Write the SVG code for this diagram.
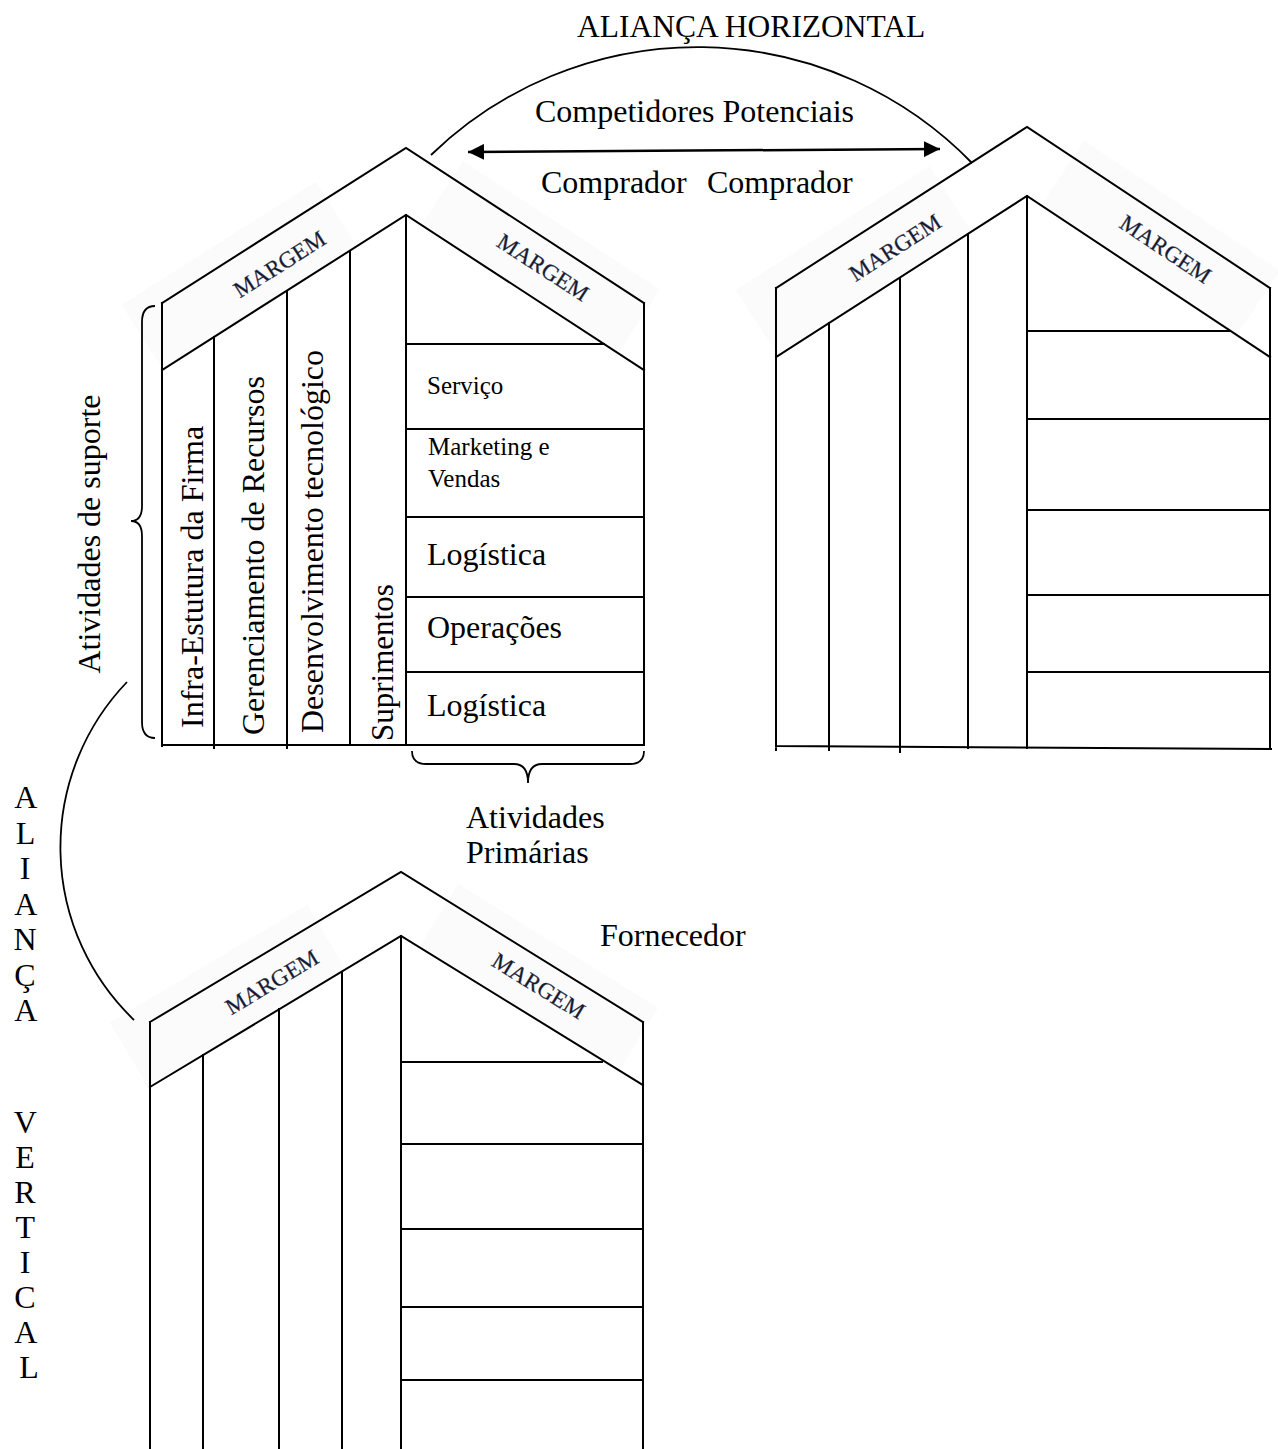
<svg xmlns="http://www.w3.org/2000/svg" width="1278" height="1449" viewBox="0 0 1278 1449">
  <style>
    .ln { stroke: #000; stroke-width: 2; fill: none; stroke-linecap: square; }
    .body { fill: #fff; stroke: none; }
    .shade { fill: #fbfbfb; stroke: none; }
    .t { font-family: "Liberation Serif", "Times New Roman", serif; font-size: 32px; fill: #000; }
    .ts { font-family: "Liberation Serif", "Times New Roman", serif; font-size: 25px; fill: #000; }
    .mg { font-family: "Liberation Serif", "Times New Roman", serif; font-size: 23px; fill: #15192e; text-anchor: middle; stroke: #3a3f5c; stroke-width: 0.3; }
    .arc { stroke: #000; stroke-width: 1.8; fill: none; }
  </style>
  <defs>
    <marker id="head" markerUnits="userSpaceOnUse" markerWidth="18" markerHeight="16" refX="16" refY="8" orient="auto-start-reverse">
      <path d="M0,0 L16,8 L0,16 Z" fill="#000"/>
    </marker>
  </defs>

  <rect width="1278" height="1449" fill="#fff"/>

  <!-- Value chain of the firm -->
  <g id="house-firma">
    <g transform="translate(162,303) rotate(-32.42)"><rect class="shade" x="-35" y="-20" width="230" height="95"/></g>
    <g transform="translate(406,148) rotate(33.07)"><rect class="shade" x="55" y="-20" width="235" height="95"/></g>
    <polygon class="body" points="162,370 406,215 644,370 644,745 162,745"/>
    <path class="ln" d="M162,303 L406,148 L644,303"/>
    <path class="ln" d="M162,370 L406,215 L644,370"/>
    <path class="ln" d="M162,303 V746 M644,303 V745 M162,745 H644"/>
    <path class="ln" d="M214,337 V748 M287,291 V748 M350,251 V745 M406,215 V745"/>
    <path class="ln" d="M406,344 H604 M406,429 H644 M406,517 H644 M406,597 H644 M406,672 H644"/>
    <g transform="translate(162,303) rotate(-32.42)"><text class="mg" x="120" y="38" textLength="104" lengthAdjust="spacing">MARGEM</text></g>
    <g transform="translate(406,148) rotate(33.07)"><text class="mg" x="180" y="33" textLength="104" lengthAdjust="spacing">MARGEM</text></g>
    <text class="t" transform="translate(203,728) rotate(-90)">Infra-Estutura da Firma</text>
    <text class="t" transform="translate(264,735) rotate(-90)">Gerenciamento de Recursos</text>
    <text class="t" transform="translate(323,733) rotate(-90)">Desenvolvimento tecnológico</text>
    <text class="t" transform="translate(393,741) rotate(-90)" style="font-size:31px">Suprimentos</text>
    <text class="ts" x="427" y="394">Serviço</text>
    <text class="ts" x="428" y="455">Marketing e</text>
    <text class="ts" x="428" y="487">Vendas</text>
    <text class="t" x="427" y="565">Logística</text>
    <text class="t" x="427" y="638">Operações</text>
    <text class="t" x="427" y="716">Logística</text>
  </g>

  <!-- Value chain of the buyer -->
  <g id="house-comprador">
    <g transform="translate(776,288) rotate(-32.68)"><rect class="shade" x="-35" y="-20" width="230" height="95"/></g>
    <g transform="translate(1027,127) rotate(33.53)"><rect class="shade" x="55" y="-20" width="235" height="95"/></g>
    <polygon class="body" points="776,357 1027,196 1270,357 1270,749 776,746"/>
    <path class="ln" d="M776,288 L1027,127 L1270,288"/>
    <path class="ln" d="M776,357 L1027,196 L1270,357"/>
    <path class="ln" d="M776,288 V750 M1270,288 V749 M776,746 L1271,749"/>
    <path class="ln" d="M829,323 V750 M900,278 V752 M968,234 V748 M1027,196 V748"/>
    <path class="ln" d="M1027,331 H1229 M1027,419 H1270 M1027,510 H1270 M1027,595 H1270 M1027,672 H1270"/>
    <g transform="translate(776,288) rotate(-32.68)"><text class="mg" x="122" y="38" textLength="104" lengthAdjust="spacing">MARGEM</text></g>
    <g transform="translate(1027,127) rotate(33.53)"><text class="mg" x="183" y="33" textLength="104" lengthAdjust="spacing">MARGEM</text></g>
  </g>

  <!-- Value chain of the supplier -->
  <g id="house-fornecedor">
    <g transform="translate(150,1022) rotate(-30.86)"><rect class="shade" x="-35" y="-20" width="230" height="95"/></g>
    <g transform="translate(401,872) rotate(31.8)"><rect class="shade" x="55" y="-20" width="235" height="95"/></g>
    <polygon class="body" points="150,1087 401,936 643,1085 643,1449 150,1449"/>
    <path class="ln" d="M150,1022 L401,872 L643,1022"/>
    <path class="ln" d="M150,1087 L401,936 L643,1085"/>
    <path class="ln" d="M150,1022 V1450 M643,1022 V1450"/>
    <path class="ln" d="M203,1055 V1450 M279,1009 V1450 M342,972 V1450 M401,936 V1450"/>
    <path class="ln" d="M401,1062 H602 M401,1144 H643 M401,1229 H643 M401,1307 H643 M401,1380 H643"/>
    <g transform="translate(150,1022) rotate(-30.86)"><text class="mg" x="125" y="36" textLength="104" lengthAdjust="spacing">MARGEM</text></g>
    <g transform="translate(401,872) rotate(31.8)"><text class="mg" x="177" y="32" textLength="104" lengthAdjust="spacing">MARGEM</text></g>
  </g>

  <!-- Braces grouping the activities -->
  <g id="brace-suporte">
    <path class="arc" d="M155,306 Q142,306 142,322 L142,506 Q142,521 131,521 Q142,521 142,536 L142,722 Q142,738 155,738"/>
    <text class="t" transform="translate(100,534) rotate(-90)" text-anchor="middle">Atividades de suporte</text>
  </g>
  <g id="brace-primarias">
    <path class="arc" d="M412,751 Q412,764 426,764 L514,764 Q528,764 528,783 Q528,764 542,764 L630,764 Q644,764 644,751"/>
    <text class="t" x="466" y="828">Atividades</text>
    <text class="t" x="466" y="863">Primárias</text>
  </g>

  <!-- Alliances between the chains -->
  <g id="connectors">
    <path class="arc" d="M431,155 A383,383 0 0 1 972,163"/>
    <path class="arc" d="M127,682 A239,239 0 0 0 134,1020"/>
    <line x1="468" y1="152" x2="940" y2="149" stroke="#000" stroke-width="2.5" marker-start="url(#head)" marker-end="url(#head)"/>
  </g>

  <g id="labels">
    <text class="t" x="577" y="37" style="font-size:31.5px">ALIANÇA HORIZONTAL</text>
    <text class="t" x="535" y="122">Competidores Potenciais</text>
    <text class="t" x="541" y="193">Comprador</text>
    <text class="t" x="707" y="193">Comprador</text>
    <text class="t" x="600" y="946">Fornecedor</text>
    <text class="t" text-anchor="middle">
      <tspan x="29" y="808">A</tspan>
      <tspan x="29" y="843.5">L</tspan>
      <tspan x="29" y="879">I</tspan>
      <tspan x="29" y="914.5">A</tspan>
      <tspan x="29" y="950">N</tspan>
      <tspan x="29" y="985.5">Ç</tspan>
      <tspan x="29" y="1021">A</tspan>
      <tspan x="29" y="1133">V</tspan>
      <tspan x="29" y="1168">E</tspan>
      <tspan x="29" y="1203">R</tspan>
      <tspan x="29" y="1238">T</tspan>
      <tspan x="29" y="1273">I</tspan>
      <tspan x="29" y="1308">C</tspan>
      <tspan x="29" y="1343">A</tspan>
      <tspan x="29" y="1378">L</tspan>
    </text>
  </g>
</svg>
